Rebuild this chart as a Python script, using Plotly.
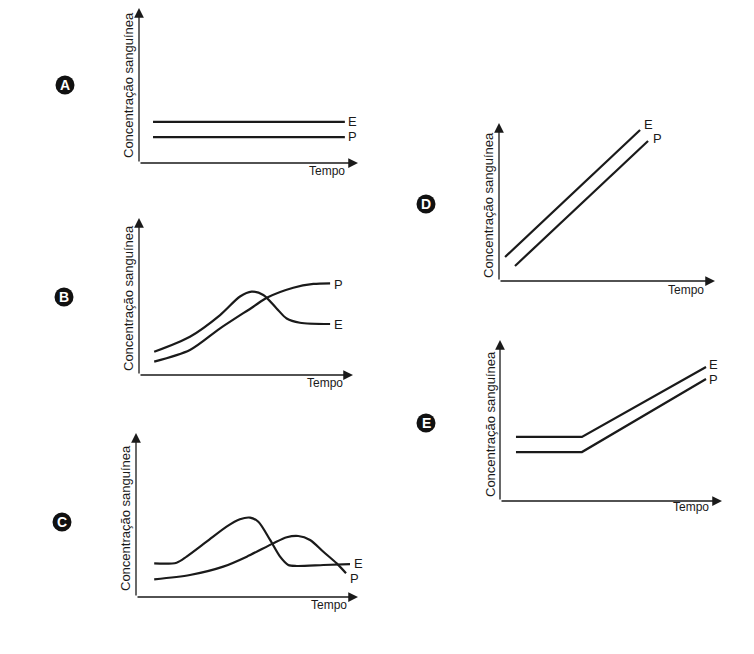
import plotly.graph_objects as go

W, H = 754, 654
OFF = 8  # browser body margin
FW, FH = W - OFF, H - OFF

# ---------------- data (arbitrary units: time 0-10, concentration 0-10) -------------
# Panel A
a_time = [0.64, 9.4]
a_E = [2.55, 2.55]
a_P = [1.61, 1.61]

# Panel B
b_E_time = [0.71, 2.38, 3.79, 4.72, 5.26, 5.81, 6.43, 6.90, 7.52, 8.93]
b_E = [1.48, 2.44, 3.82, 5.00, 5.31, 5.10, 4.24, 3.60, 3.33, 3.25]
b_P_time = [0.71, 2.38, 3.79, 5.34, 5.97, 7.21, 8.15, 8.93]
b_P = [0.85, 1.59, 2.97, 4.35, 4.92, 5.56, 5.80, 5.84]

# Panel C
c_E_time = [0.82, 1.83, 2.28, 3.18, 4.08, 4.68, 5.14, 5.51, 6.04, 6.49, 6.86, 7.24, 8.44, 9.64]
c_E = [2.05, 2.09, 2.46, 3.37, 4.29, 4.74, 4.84, 4.59, 3.48, 2.46, 1.95, 1.89, 1.95, 2.01]
c_P_time = [0.82, 2.43, 3.93, 4.99, 6.18, 6.79, 7.31, 7.84, 8.44, 9.04, 9.46]
c_P = [1.08, 1.34, 1.85, 2.46, 3.27, 3.64, 3.72, 3.48, 2.76, 2.05, 1.45]

# Panel D
d_E_time = [0.28, 6.53]
d_E = [1.52, 9.56]
d_P_time = [0.74, 6.90]
d_P = [0.95, 8.86]

# Panel E
e_time = [0.72, 3.69, 9.28]
e_E = [3.98, 3.98, 8.32]
e_P = [3.04, 3.04, 7.58]

y_title = "Concentração sanguínea"
x_title = "Tempo"

# ---------------- layout helpers ----------------
def px(x):
    return (x - OFF) / FW

def py(y):
    return 1 - (y - OFF) / FH

# panel boxes in pixels: (x origin, x end, y origin, y top)
boxes = {
    "A": (139, 358, 163, 2),
    "B": (139, 353, 375, 218),
    "C": (136, 358, 597, 433),
    "D": (499, 715, 281, 123),
    "E": (500, 722, 501, 340),
}

panels = {
    "A": [(a_time, a_E, "E"), (a_time, a_P, "P")],
    "B": [(b_E_time, b_E, "E"), (b_P_time, b_P, "P")],
    "C": [(c_E_time, c_E, "E"), (c_P_time, c_P, "P")],
    "D": [(d_E_time, d_E, "E"), (d_P_time, d_P, "P")],
    "E": [(e_time, e_E, "E"), (e_time, e_P, "P")],
}
spline = {"A": False, "B": True, "C": True, "D": False, "E": False}

# badge centres (px)
badges = {"A": (65, 85), "B": (64, 297), "C": (62, 522), "D": (426, 204), "E": (426, 423)}
# y title centres (px)
ytitles = {"A": (128, 85), "B": (128, 298), "C": (125, 518), "D": (489, 205), "E": (490, 424)}
# Tempo right edge / centre y (px)
xtitles = {"A": (347, 171), "B": (345, 383), "C": (349, 605), "D": (706, 290), "E": (711, 507)}
# series labels: left x, centre y (px)
labels = {
    "A": [("E", 346, 121), ("P", 346, 137)],
    "B": [("P", 332, 284), ("E", 332, 324)],
    "C": [("E", 352, 563), ("P", 348, 578)],
    "D": [("E", 642, 125), ("P", 651, 138)],
    "E": [("E", 707, 364), ("P", 707, 379)],
}

fig = go.Figure()
annotations = []
shapes = []
layout_axes = {}

FONT = "Liberation Sans, Arial, sans-serif"

for i, key in enumerate(["A", "B", "C", "D", "E"]):
    n = i + 1
    xa = "x" if n == 1 else f"x{n}"
    ya = "y" if n == 1 else f"y{n}"
    x0, x1, y0, y1 = boxes[key]
    top = max(y1, OFF)
    ymax = 10 * (y0 - top) / (y0 - y1)
    layout_axes[f"xaxis{'' if n == 1 else n}"] = dict(
        domain=[px(x0), px(x1)], range=[0, 10], visible=False, anchor=ya, fixedrange=True)
    layout_axes[f"yaxis{'' if n == 1 else n}"] = dict(
        domain=[py(y0), py(top)], range=[0, ymax], visible=False, anchor=xa,
        fixedrange=True)

    for xs, ys, name in panels[key]:
        line = dict(color="#1a1a1a", width=2.2)
        if spline[key]:
            line.update(shape="spline", smoothing=0.8)
        fig.add_trace(go.Scatter(x=xs, y=ys, mode="lines", line=line,
                                 xaxis=xa, yaxis=ya, showlegend=False, hoverinfo="skip"))

    # axes with arrows
    for (tx, ty) in [(10, 0), (0, ymax)]:
        annotations.append(dict(
            x=tx, y=ty, ax=0, ay=0, xref=xa, yref=ya, axref=xa, ayref=ya,
            text="", showarrow=True, arrowhead=2, arrowsize=1.5, arrowwidth=1.3,
            arrowcolor="#1a1a1a"))

    # y title
    cx, cy = ytitles[key]
    annotations.append(dict(x=px(cx), y=py(cy), xref="paper", yref="paper", text=y_title,
                            textangle=-90, showarrow=False, xanchor="center", yanchor="middle",
                            font=dict(family=FONT, size=13, color="#1a1a1a")))
    # x title
    rx, ry = xtitles[key]
    annotations.append(dict(x=px(rx), y=py(ry), xref="paper", yref="paper", text=x_title,
                            showarrow=False, xanchor="right", yanchor="middle",
                            font=dict(family=FONT, size=12, color="#1a1a1a")))
    # series labels
    for t, lx, ly in labels[key]:
        annotations.append(dict(x=px(lx), y=py(ly), xref="paper", yref="paper", text=t,
                                showarrow=False, xanchor="left", yanchor="middle",
                                font=dict(family=FONT, size=13, color="#1a1a1a")))
    # badge
    bx, by = badges[key]
    shapes.append(dict(type="circle", xref="paper", yref="paper", xsizemode="pixel",
                       ysizemode="pixel", xanchor=px(bx), yanchor=py(by),
                       x0=-9.5, x1=9.5, y0=-9.5, y1=9.5,
                       fillcolor="#111111", line=dict(color="#111111", width=0)))
    annotations.append(dict(x=px(bx), y=py(by), xref="paper", yref="paper",
                            text=f"<b>{key}</b>", showarrow=False, xanchor="center",
                            yanchor="middle",
                            font=dict(family=FONT, size=14, color="white")))

fig.update_layout(
    width=FW, height=FH, margin=dict(l=0, r=0, t=0, b=0),
    paper_bgcolor="white", plot_bgcolor="white",
    annotations=annotations, shapes=shapes, **layout_axes)

fig.write_html("out.html", config={"displayModeBar": False})
